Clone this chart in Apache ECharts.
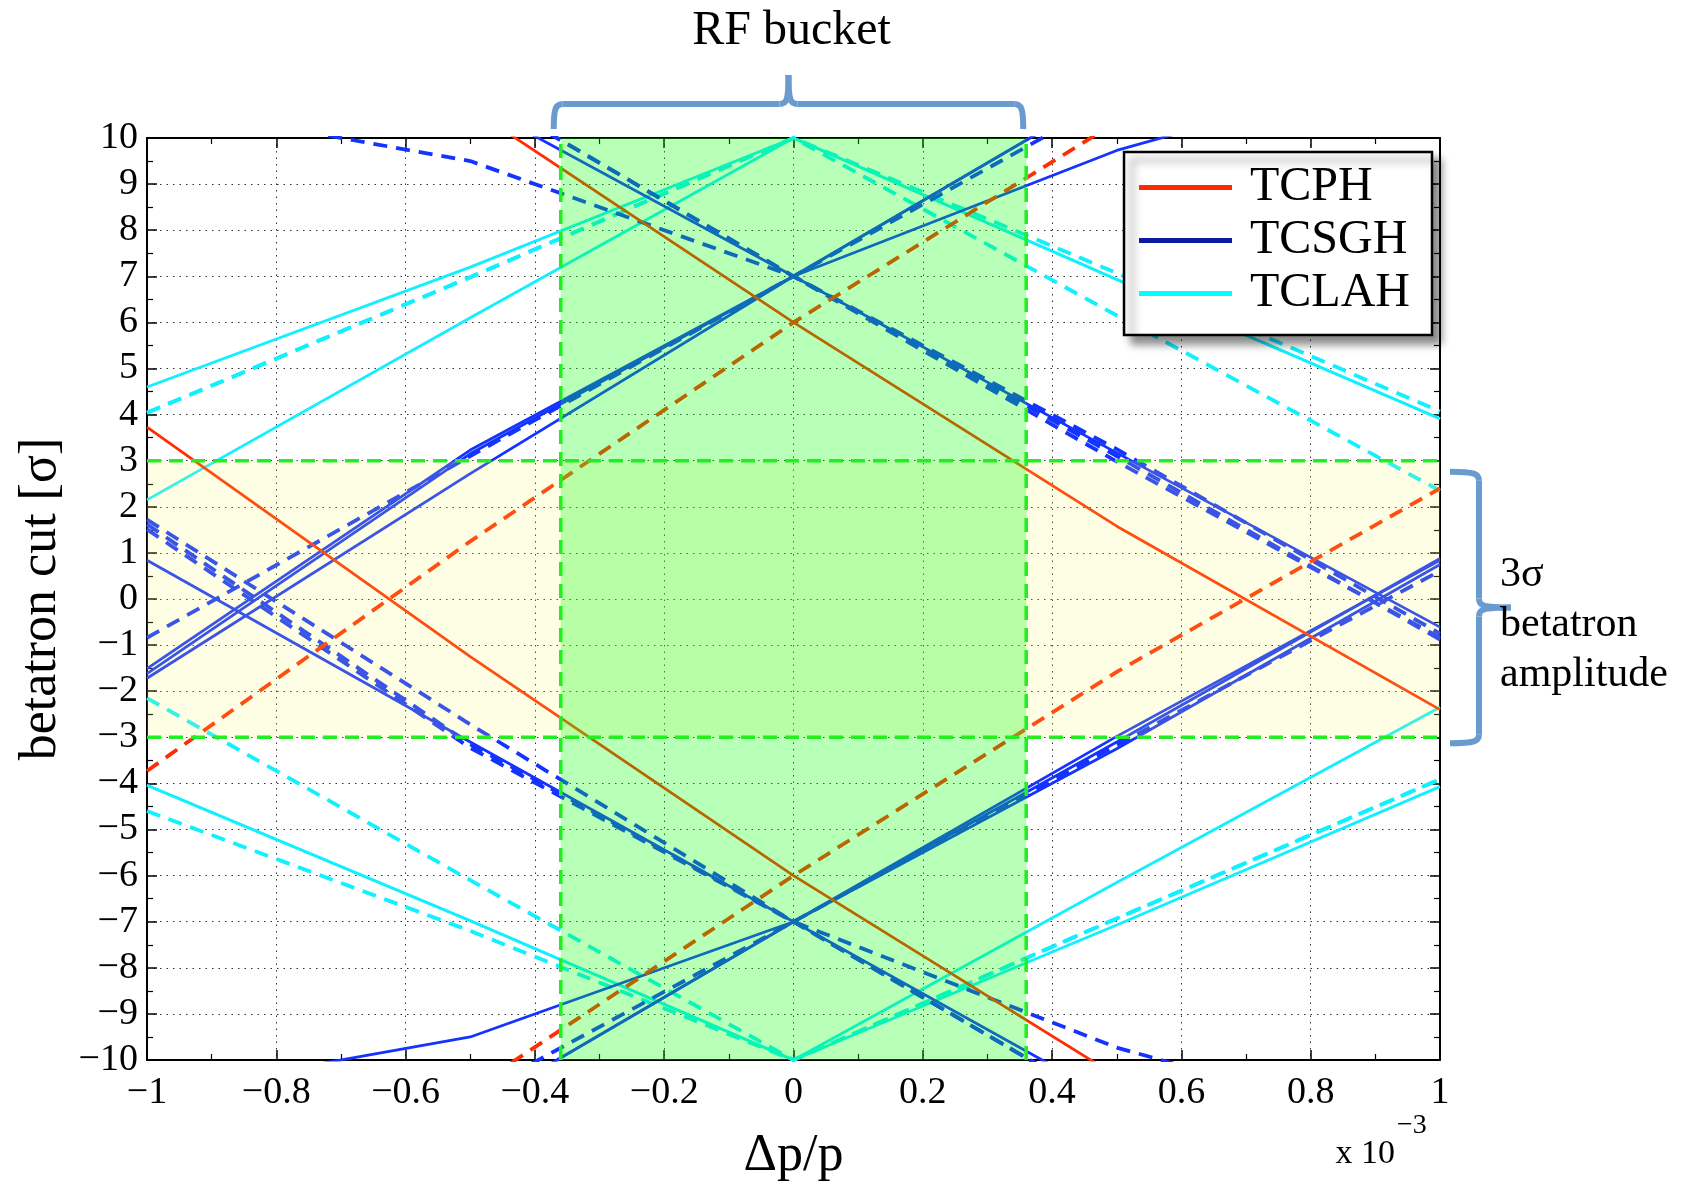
<!DOCTYPE html>
<html>
<head>
<meta charset="utf-8">
<script src="https://cdn.jsdelivr.net/npm/echarts/dist/echarts.min.js"></script>
<style>
  html, body { margin: 0; padding: 0; background: #fff; }
  #chart { width: 1686px; height: 1185px; }
</style>
</head>
<body>
<div id="chart"></div>
<script>
// momentum offset samples (x 10^-3)
const dpp = [-1, -0.5, 0, 0.5, 1];
const xRange = [-1, 1];
const yRange = [-10, 10];
const bucketEdges = [-0.36, 0.36];
const ampLimits = [-3, 3];

// TCPH
const tcphSolidUp = [15.3, 10.65, 6, 1.58, -2.4];
const tcphSolidLow = [3.73, -1.25, -6, -10.35, -14.3];
const tcphDashUp = [-3.73, 1.25, 6, 10.35, 14.3];
const tcphDashLow = [-15.3, -10.65, -6, -1.58, 2.4];

// TCSGH solid
const tcsgSolidA = [14.6, 10.8, 7, 3.17, -0.61];
const tcsgSolidB = [-1.72, 2.72, 7, 11.1, 15.2];
const tcsgSolidC = [-1.51, 3.23, 7, 9.73, 11.7];
const tcsgSolidG = [-1.62, 3.15, 7, 11.1, 15.2];
const tcsgSolidD = [0.84, -3.1, -7, -10.9, -14.8];
const tcsgSolidE = [-15, -11.1, -7, -2.98, 0.84];
const tcsgSolidF = [-10.75, -9.5, -7, -3.25, 0.75];
const tcsgSolidH = [-15, -11.1, -7, -3.1, 0.88];
// TCSGH dashed
const tcsgDashA = [-14.6, -10.8, -7, -3.17, 0.61];
const tcsgDashB = [1.72, -2.72, -7, -11.1, -15.2];
const tcsgDashC = [1.51, -3.23, -7, -9.73, -11.7];
const tcsgDashG = [1.62, -3.15, -7, -11.1, -15.2];
const tcsgDashD = [-0.84, 3.1, 7, 10.9, 14.8];
const tcsgDashE = [15, 11.1, 7, 2.98, -0.84];
const tcsgDashF = [10.75, 9.5, 7, 3.25, -0.75];
const tcsgDashH = [15, 11.1, 7, 3.1, -0.88];

// TCLAH
const tclaSolidA = [4.6, 7.2, 10, 6.93, 3.91];
const tclaSolidB = [2.15, 6.1, 10, 6.93, 3.91];
const tclaSolidC = [-4.04, -6.98, -10, -7.07, -4.07];
const tclaSolidD = [-4.04, -6.98, -10, -6.15, -2.35];
const tclaDashA = [-4.6, -7.2, -10, -6.93, -3.91];
const tclaDashB = [-2.15, -6.1, -10, -6.93, -3.91];
const tclaDashC = [4.04, 6.98, 10, 7.07, 4.07];
const tclaDashD = [4.04, 6.98, 10, 6.15, 2.35];

const legendNames = ['TCPH', 'TCSGH', 'TCLAH'];

const FONT = '"Liberation Serif", "Times New Roman", serif';
const RED = '#ff2d00';
const BLUE = '#1433ff';
const CYAN = '#10f0ff';
const GREEN_LINE = '#22ee22';

const chart = echarts.init(document.getElementById('chart'), null, { renderer: 'canvas' });

function lineSeries(name, vals, color, dashed) {
    return {
        name: name,
        type: 'line',
        data: dpp.map((x, i) => [x, vals[i]]),
        symbol: 'none',
        clip: true,
        silent: true,
        z: 2,
        lineStyle: { color: color, width: dashed ? 3.8 : 2.8, type: dashed ? [14, 9] : 'solid' },
        itemStyle: { color: color },
        emphasis: { disabled: true }
    };
}

function guideSeries(points) {
    return {
        type: 'line',
        data: points,
        symbol: 'none',
        silent: true,
        z: 4,
        lineStyle: { color: GREEN_LINE, width: 3.6, type: [14, 8] },
        emphasis: { disabled: true }
    };
}

const tickFmt = v => {
    const r = Math.round(v * 10) / 10;
    return r < 0 ? '\u2212' + Math.abs(r) : String(r);
};

const bands = [
    [xRange[0], xRange[1], ampLimits[0], ampLimits[1]],
    [bucketEdges[0], bucketEdges[1], yRange[0], yRange[1]]
];
const bandFills = ['rgba(250,250,100,0.17)', 'rgba(0,255,0,0.28)'];

const series = [
    lineSeries('TCLAH', tclaSolidA, CYAN, false),
    lineSeries('TCLAH', tclaSolidB, CYAN, false),
    lineSeries('TCLAH', tclaSolidC, CYAN, false),
    lineSeries('TCLAH', tclaSolidD, CYAN, false),
    lineSeries('TCLAH', tclaDashA, CYAN, true),
    lineSeries('TCLAH', tclaDashB, CYAN, true),
    lineSeries('TCLAH', tclaDashC, CYAN, true),
    lineSeries('TCLAH', tclaDashD, CYAN, true),
    lineSeries('TCSGH', tcsgSolidA, BLUE, false),
    lineSeries('TCSGH', tcsgSolidB, BLUE, false),
    lineSeries('TCSGH', tcsgSolidC, BLUE, false),
    lineSeries('TCSGH', tcsgSolidG, BLUE, false),
    lineSeries('TCSGH', tcsgSolidD, BLUE, false),
    lineSeries('TCSGH', tcsgSolidE, BLUE, false),
    lineSeries('TCSGH', tcsgSolidF, BLUE, false),
    lineSeries('TCSGH', tcsgSolidH, BLUE, false),
    lineSeries('TCSGH', tcsgDashA, BLUE, true),
    lineSeries('TCSGH', tcsgDashB, BLUE, true),
    lineSeries('TCSGH', tcsgDashC, BLUE, true),
    lineSeries('TCSGH', tcsgDashG, BLUE, true),
    lineSeries('TCSGH', tcsgDashD, BLUE, true),
    lineSeries('TCSGH', tcsgDashE, BLUE, true),
    lineSeries('TCSGH', tcsgDashF, BLUE, true),
    lineSeries('TCSGH', tcsgDashH, BLUE, true),
    lineSeries('TCPH', tcphSolidUp, RED, false),
    lineSeries('TCPH', tcphSolidLow, RED, false),
    lineSeries('TCPH', tcphDashUp, RED, true),
    lineSeries('TCPH', tcphDashLow, RED, true),
    {
        type: 'custom',
        z: 3,
        silent: true,
        data: bands,
        encode: { x: [0, 1], y: [2, 3] },
        renderItem: (params, api) => {
            const a = api.coord([api.value(0), api.value(3)]);
            const b = api.coord([api.value(1), api.value(2)]);
            return {
                type: 'rect',
                shape: { x: a[0], y: a[1], width: b[0] - a[0], height: b[1] - a[1] },
                style: { fill: bandFills[params.dataIndex] }
            };
        }
    },
    guideSeries([[bucketEdges[0], yRange[0]], [bucketEdges[0], yRange[1]]]),
    guideSeries([[bucketEdges[1], yRange[0]], [bucketEdges[1], yRange[1]]]),
    guideSeries([[xRange[0], ampLimits[0]], [xRange[1], ampLimits[0]]]),
    guideSeries([[xRange[0], ampLimits[1]], [xRange[1], ampLimits[1]]])
];

const boxAxisLine = { onZero: false, lineStyle: { color: '#000', width: 2 } };
const boxTick = { inside: true, length: 10, lineStyle: { color: '#000', width: 1.5 } };
const boxMinor = { show: true, splitNumber: 2, length: 6, lineStyle: { color: '#000', width: 1.2 } };
const gridDots = { show: true, lineStyle: { color: '#333', width: 1, type: [1.5, 5] } };

chart.setOption({
    animation: false,
    backgroundColor: '#fff',
    grid: { left: 147, right: 246, top: 138, bottom: 125, outerBoundsMode: 'none' },
    xAxis: [
        {
            type: 'value', min: xRange[0], max: xRange[1], interval: 0.2, position: 'bottom',
            axisLine: boxAxisLine, axisTick: boxTick, minorTick: boxMinor, splitLine: gridDots,
            axisLabel: { margin: 14, fontSize: 38, fontFamily: FONT, color: '#000', formatter: tickFmt },
            name: '\u0394p/p', nameLocation: 'middle', nameGap: 70, nameMoveOverlap: false,
            nameTextStyle: { fontSize: 52, fontFamily: FONT, color: '#000' }
        },
        {
            type: 'value', min: xRange[0], max: xRange[1], interval: 0.2, position: 'top',
            axisLine: boxAxisLine, axisTick: boxTick, minorTick: boxMinor,
            splitLine: { show: false }, axisLabel: { show: false }
        }
    ],
    yAxis: [
        {
            type: 'value', min: yRange[0], max: yRange[1], interval: 1, position: 'left',
            axisLine: boxAxisLine, axisTick: boxTick, minorTick: boxMinor, splitLine: gridDots,
            axisLabel: { margin: 9, fontSize: 38, fontFamily: FONT, color: '#000', formatter: tickFmt },
            name: 'betatron cut [\u03c3]', nameLocation: 'middle', nameGap: 80, nameMoveOverlap: false,
            nameTextStyle: { fontSize: 52, fontFamily: FONT, color: '#000' }
        },
        {
            type: 'value', min: yRange[0], max: yRange[1], interval: 1, position: 'right',
            axisLine: boxAxisLine, axisTick: boxTick, minorTick: boxMinor,
            splitLine: { show: false }, axisLabel: { show: false }
        }
    ],
    legend: {
        orient: 'vertical',
        right: 254,
        top: 152,
        z: 10,
        selectedMode: false,
        icon: 'rect',
        itemWidth: 93,
        itemHeight: 5,
        itemGap: 0,
        padding: [9, 22, 15, 15],
        backgroundColor: '#fff',
        borderColor: '#000',
        borderWidth: 2.5,
        shadowBlur: 8,
        shadowColor: 'rgba(0,0,0,0.45)',
        shadowOffsetX: 8,
        shadowOffsetY: 8,
        textStyle: { fontSize: 48, fontFamily: FONT, color: '#000', lineHeight: 53, padding: [0, 0, 0, 13] },
        data: [
            { name: legendNames[0], itemStyle: { color: '#ff2a00' } },
            { name: legendNames[1], itemStyle: { color: '#0b1aa0' } },
            { name: legendNames[2], itemStyle: { color: '#00ffff' } }
        ]
    },
    series: series
});

// annotations (braces and texts), anchored to the axes
const toPx = (x, y) => chart.convertToPixel({ gridIndex: 0 }, [x, y]);
const BRACE = '#6a9bd0';
const braceStyle = { stroke: BRACE, lineWidth: 6, fill: 'none' };

function bez(x1, y1, cpx1, cpy1, cpx2, cpy2, x2, y2) {
    return { type: 'bezierCurve', z: 20, silent: true,
        shape: { x1, y1, cpx1, cpy1, cpx2, cpy2, x2, y2 }, style: braceStyle };
}
function seg(x1, y1, x2, y2) {
    return { type: 'line', z: 20, silent: true, shape: { x1, y1, x2, y2 }, style: braceStyle };
}

const plotTL = toPx(xRange[0], yRange[1]);
const plotBR = toPx(xRange[1], yRange[0]);
const bl = toPx(bucketEdges[0], yRange[1]);
const br = toPx(bucketEdges[1], yRange[1]);

// top brace over the RF bucket
const tx0 = bl[0] - 7, tx1 = br[0] - 3, txm = (tx0 + tx1) / 2;
const tyBar = plotTL[1] - 34, tHook = 25, tTip = 29, r = 9;
const topBrace = [
    bez(tx0, tyBar + tHook, tx0, tyBar + 4, tx0 + 2, tyBar, tx0 + r, tyBar),
    seg(tx0 + r, tyBar, txm - r, tyBar),
    bez(txm - r, tyBar, txm - 2, tyBar, txm, tyBar - 3, txm, tyBar - tTip),
    bez(txm + r, tyBar, txm + 2, tyBar, txm, tyBar - 3, txm, tyBar - tTip),
    seg(txm + r, tyBar, tx1 - r, tyBar),
    bez(tx1, tyBar + tHook, tx1, tyBar + 4, tx1 - 2, tyBar, tx1 - r, tyBar)
];

// right brace over the 3 sigma band
const a3 = toPx(xRange[1], ampLimits[1]);
const am3 = toPx(xRange[1], ampLimits[0]);
const rxBar = plotBR[0] + 39, rHook = 29, rTip = 32;
const ry0 = a3[1] + 11, ry1 = am3[1] + 6, rym = (ry0 + ry1) / 2;
const rightBrace = [
    bez(rxBar - rHook, ry0, rxBar - 4, ry0, rxBar, ry0 + 2, rxBar, ry0 + r),
    seg(rxBar, ry0 + r, rxBar, rym - r),
    bez(rxBar, rym - r, rxBar, rym - 2, rxBar + 3, rym, rxBar + rTip, rym),
    bez(rxBar, rym + r, rxBar, rym + 2, rxBar + 3, rym, rxBar + rTip, rym),
    seg(rxBar, rym + r, rxBar, ry1 - r),
    bez(rxBar - rHook, ry1, rxBar - 4, ry1, rxBar, ry1 - 2, rxBar, ry1 - r)
];

const texts = [
    { type: 'text', z: 20, silent: true, x: txm + 3, y: 31,
      style: { text: 'RF bucket', font: '48px ' + FONT, fill: '#000', textAlign: 'center', textVerticalAlign: 'middle' } },
    { type: 'text', z: 20, silent: true, x: plotBR[0] + 60, y: rym + 17,
      style: { text: '3\u03c3\nbetatron\namplitude', font: '42px ' + FONT, fill: '#000', lineHeight: 50,
               textAlign: 'left', textVerticalAlign: 'middle' } },
    { type: 'text', z: 20, silent: true, x: plotBR[0] - 45, y: plotBR[1] + 94,
      style: { text: 'x 10', font: '34px ' + FONT, fill: '#000', textAlign: 'right', textVerticalAlign: 'middle' } },
    { type: 'text', z: 20, silent: true, x: plotBR[0] - 43, y: plotBR[1] + 66,
      style: { text: '\u22123', font: '28px ' + FONT, fill: '#000', textAlign: 'left', textVerticalAlign: 'middle' } }
];

chart.setOption({ graphic: { elements: topBrace.concat(rightBrace, texts) } });
</script>
</body>
</html>
